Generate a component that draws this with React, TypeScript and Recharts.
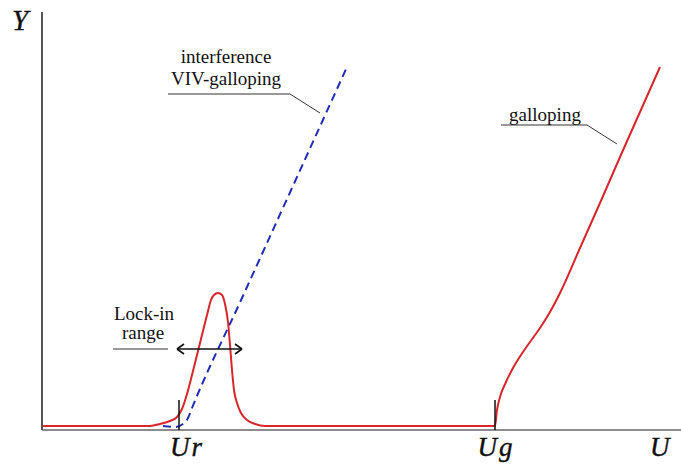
import { LineChart, Line, XAxis, YAxis, ReferenceLine, ReferenceDot } from "recharts";

// wind speed U (horizontal) vs amplitude Y (vertical)
const viivGallopU = [0, 108, 118, 128, 135, 140, 145, 150, 155, 160, 165, 169, 172, 176, 180, 183, 186, 188, 190, 192, 195, 199, 205, 213, 223, 453, 455, 458, 464, 471, 479, 488, 498, 508, 518, 538, 558, 578, 598, 618];
const viivGallopY = [4, 4, 6, 9, 13, 21, 36, 55, 75, 95, 115, 130, 135, 137, 135, 126, 108, 85, 60, 40, 27, 17, 10, 6, 4, 4, 20, 33, 48, 62, 75, 88, 102, 118, 137, 182, 227, 273, 318, 363];

const interfU = [121, 133, 141, 146, 150, 200, 250, 305];
const interfY = [4, 3, 6, 12, 22, 132, 242, 363];

const U_R = 137;
const U_G = 453;
const U_MAX = 639;
const Y_MAX = 418;

const xTicks = [U_R, U_G, U_MAX];
const xTickLabels = [["U", "r"], ["U", "g"], ["U", ""]];

const redData = viivGallopU.map((u, i) => ({ u, y: viivGallopY[i] }));
const blueData = interfU.map((u, i) => ({ u, y: interfY[i] }));

const FONT = "'Liberation Serif', 'Times New Roman', serif";

const notes = [
  { u: 184, y: 367, text: "interference" },
  { u: 184, y: 345, text: "VIV-galloping" },
  { u: 503, y: 309, text: "galloping" },
  { u: 102, y: 110, text: "Lock-in" },
  { u: 101, y: 91, text: "range" },
];

// leader lines + the lock-in arrow
const leaders = [
  [{ x: 126, y: 336 }, { x: 248, y: 336 }],
  [{ x: 248, y: 336 }, { x: 278, y: 317 }],
  [{ x: 459, y: 305 }, { x: 545, y: 305 }],
  [{ x: 545, y: 305 }, { x: 575, y: 286 }],
  [{ x: 71, y: 81 }, { x: 126, y: 81 }],
];
const arrow = [
  [{ x: 135, y: 81 }, { x: 200, y: 81 }],
  [{ x: 135, y: 81 }, { x: 142, y: 86 }],
  [{ x: 135, y: 81 }, { x: 142, y: 76 }],
  [{ x: 200, y: 81 }, { x: 193, y: 86 }],
  [{ x: 200, y: 81 }, { x: 193, y: 76 }],
];

function UTick(props: any) {
  const { x, y, payload } = props;
  const idx = xTicks.indexOf(payload.value);
  const lab = xTickLabels[idx] || ["", ""];
  const isEnd = payload.value === U_MAX;
  const dx = idx === 0 ? 7 : 0;
  return (
    <g>
      {!isEnd && <line x1={x} x2={x} y1={y - 30} y2={y} stroke="#111" strokeWidth={1.5} />}
      <text
        x={isEnd ? x - 19 : x + dx}
        y={y + 26}
        textAnchor={isEnd ? "start" : "middle"}
        fontFamily={FONT}
        fontStyle="italic"
        fontSize={27}
        fill="#111"
        stroke="#111"
        strokeWidth={0.4}
      >
        <tspan>{lab[0]}</tspan>
        {lab[1] && <tspan dx={2}>{lab[1]}</tspan>}
      </text>
    </g>
  );
}

export default function App() {
  return (
    <div style={{ position: "absolute", left: 0, top: 0, width: 681, height: 464, background: "#fff" }}>
      <LineChart width={681} height={464} margin={{ top: 12, right: 0, bottom: 0, left: 0 }}>
        <XAxis
          dataKey="u"
          type="number"
          domain={[0, U_MAX]}
          ticks={xTicks}
          tick={<UTick />}
          tickLine={false}
          tickSize={0}
          tickMargin={0}
          height={34}
          axisLine={{ stroke: "#666", strokeWidth: 1.5 }}
          allowDataOverflow
        />
        <XAxis
          xAxisId="top"
          orientation="top"
          type="number"
          domain={[0, U_MAX]}
          tick={false}
          tickLine={false}
          height={0}
          axisLine={{ stroke: "#555", strokeWidth: 2 }}
        />
        <YAxis
          type="number"
          domain={[0, Y_MAX]}
          tick={false}
          tickLine={false}
          width={42}
          axisLine={{ stroke: "#555", strokeWidth: 2 }}
          allowDataOverflow
        />
        <Line
          data={blueData}
          dataKey="y"
          type="monotone"
          stroke="#1f2db5"
          strokeWidth={2}
          strokeDasharray="8 5"
          dot={false}
          isAnimationActive={false}
        />
        <Line
          data={redData}
          dataKey="y"
          type="monotone"
          stroke="#d7262b"
          strokeWidth={2}
          dot={false}
          isAnimationActive={false}
        />
        {leaders.map((s, i) => (
          <ReferenceLine key={"l" + i} segment={s} stroke="#333" strokeWidth={1} />
        ))}
        {arrow.map((s, i) => (
          <ReferenceLine key={"a" + i} segment={s} stroke="#111" strokeWidth={1.6} />
        ))}
        {notes.map((n, i) => (
          <ReferenceDot
            key={"n" + i}
            x={n.u}
            y={n.y}
            r={0}
            shape={(p: any) => (
              <text x={p.cx} y={p.cy} textAnchor="middle" fontFamily={FONT} fontSize={19} fill="#111">
                {n.text}
              </text>
            )}
          />
        ))}
        <ReferenceDot
          x={0}
          y={Y_MAX}
          r={0}
          ifOverflow="visible"
          shape={(p: any) => (
            <text
              x={p.cx - 30}
              y={p.cy + 18}
              fontFamily={FONT}
              fontStyle="italic"
              fontSize={29}
              fill="#111"
              stroke="#111"
              strokeWidth={0.4}
            >
              Y
            </text>
          )}
        />
      </LineChart>
    </div>
  );
}
